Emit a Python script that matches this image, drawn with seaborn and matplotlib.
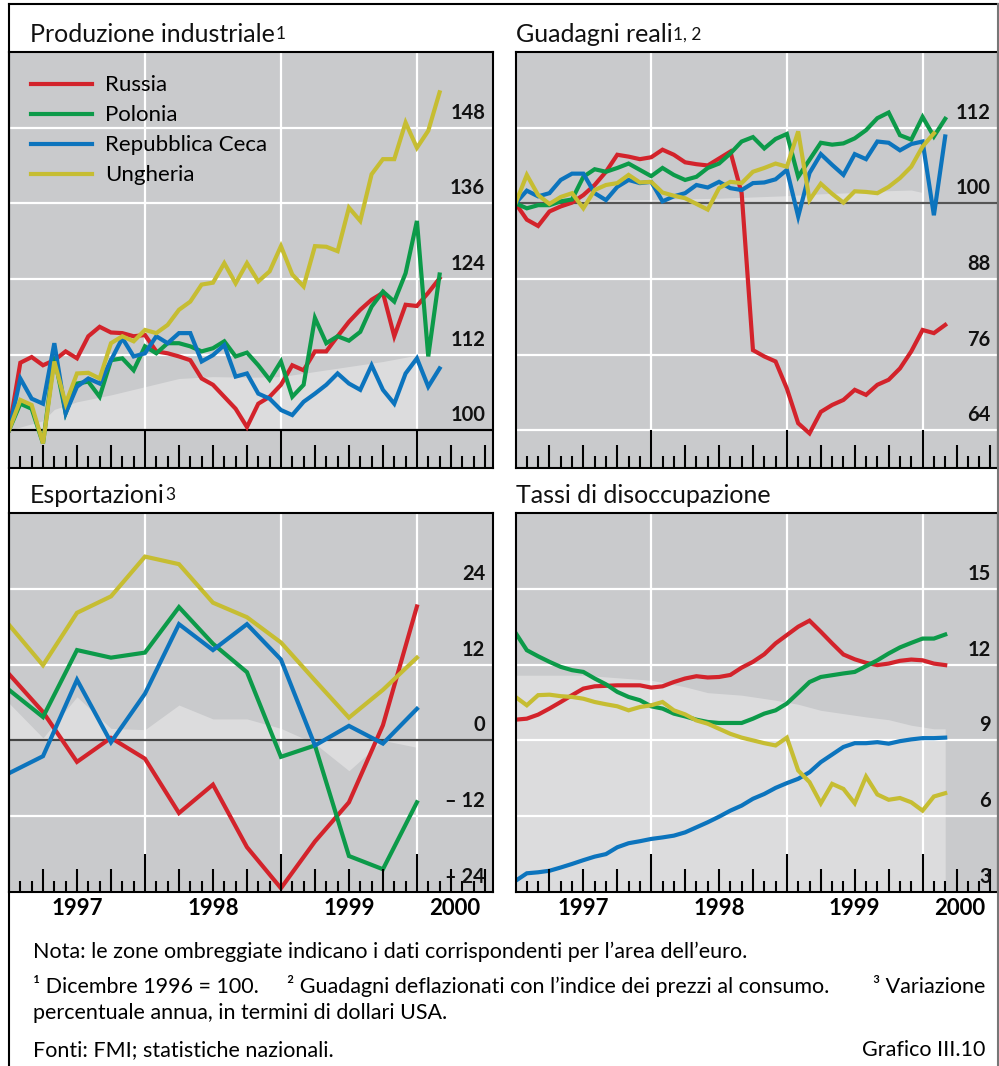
import seaborn as sns
import matplotlib.pyplot as plt
import matplotlib.lines as mlines
import pandas as pd
import numpy as np

plt.rcParams['font.family'] = ['Lato', 'DejaVu Sans']

# ---- dati -------------------------------------------------------------
paesi = ['Russia', 'Polonia', 'Repubblica Ceca', 'Ungheria']
colori = ['#d3232b', '#0c9a49', '#0c74bd', '#c6bd32']

# mesi: 0 = dicembre 1996, 12 = dicembre 1997, ...
mesi = list(range(39))
trimestri = [0, 3, 6, 9, 12, 15, 18, 21, 24, 27, 30, 33, 36]

prod_russia = [100, 110.7, 111.6, 110.3, 111.1, 112.5, 111.4, 114.9, 116.4, 115.5, 115.4, 114.9, 115.1,
               112.5, 112.2, 111.7, 111.1, 108.2, 107.2, 105.3, 103.4, 100.5, 104.2, 105.3, 107.2,
               110.3, 109.5, 112.5, 112.5, 114.9, 117.2, 119.1, 120.7, 121.8, 114.9, 119.9, 119.7, 121.8, 124.1]
prod_polonia = [100, 104.2, 103.4, 97.9, 111.7, 102.7, 107.4, 107.7, 105.3, 111.1, 111.4, 109.5, 113.3,
                112.2, 113.8, 113.8, 113.3, 112.5, 113.0, 114.1, 111.7, 112.3, 110.3, 108.0, 110.9,
                105.3, 107.2, 117.8, 113.8, 114.9, 114.2, 115.6, 119.6, 122.0, 120.4, 124.9, 133.2, 111.7, 124.7]
prod_ceca = [100, 108.2, 105.0, 104.2, 113.8, 102.7, 106.9, 108.2, 107.4, 111.1, 114.6, 111.7, 112.2,
             114.9, 113.8, 115.4, 115.4, 110.9, 111.9, 113.5, 108.5, 109.0, 105.8, 105.0, 103.2,
             102.4, 104.5, 105.8, 107.2, 109.0, 107.4, 106.4, 110.3, 106.4, 104.2, 109.0, 111.4, 106.9, 109.8]
prod_ungheria = [100, 104.8, 104.0, 97.9, 110.9, 104.2, 109.0, 109.1, 108.2, 113.8, 114.9, 114.1, 115.9,
                 115.4, 116.7, 119.1, 120.4, 123.1, 123.4, 126.5, 123.3, 126.5, 123.6, 125.2, 129.2,
                 124.7, 122.8, 129.2, 129.1, 128.4, 135.3, 133.2, 140.6, 143.0, 143.0, 148.8, 144.8, 147.5, 153.6]
prod_euro_mesi = [0, 3, 4, 6, 9, 12, 15, 18, 21, 24, 27, 30, 33, 36]
prod_euro = [100, 101.5, 103.3, 104.5, 105.6, 106.9, 108.2, 108.5, 108.4, 108.5, 109.3, 110.1, 110.9, 111.9]

gua_russia = [100, 97.4, 96.4, 98.7, 99.5, 100.1, 101.3, 102.9, 105.0, 107.7, 107.4, 107.0, 107.3,
              108.5, 107.7, 106.5, 106.2, 106.0, 107.1, 108.2, 101.6, 76.7, 75.7, 74.9, 70.6,
              65.1, 63.5, 66.9, 68.0, 68.8, 70.4, 69.6, 71.2, 72.0, 73.8, 76.5, 79.9, 79.4, 80.7]
gua_polonia = [100, 99.2, 99.7, 99.7, 100.3, 100.6, 104.2, 105.4, 105.0, 105.6, 106.3, 105.3, 104.3,
               105.6, 104.5, 103.7, 104.2, 105.6, 106.3, 107.9, 109.8, 110.5, 108.7, 110.2, 111.0,
               104.2, 106.9, 109.6, 109.3, 109.5, 110.3, 111.6, 113.5, 114.4, 110.8, 110.1, 113.7, 110.6, 113.4]
gua_ceca = [100, 102.0, 101.1, 101.6, 103.7, 104.7, 104.7, 101.6, 100.5, 102.6, 103.7, 103.2, 103.4,
            100.3, 101.1, 101.6, 102.9, 102.5, 103.4, 102.4, 102.1, 103.2, 103.3, 103.8, 105.3,
            97.9, 104.8, 107.8, 106.1, 104.5, 107.8, 107.0, 109.8, 109.6, 108.4, 109.4, 109.8, 98.1, 110.6]
gua_ungheria = [100, 104.5, 101.3, 99.9, 101.0, 101.6, 99.2, 102.1, 102.9, 103.2, 104.5, 103.3, 103.4,
                101.7, 101.2, 100.8, 99.9, 99.0, 102.4, 103.4, 103.2, 105.0, 105.6, 106.3, 105.8,
                111.4, 100.5, 103.1, 101.5, 100.1, 101.9, 101.8, 101.6, 102.6, 104.0, 105.8, 109.0, 111.1]
gua_euro_mesi = [0, 6, 12, 18, 24, 27, 30, 33, 35, 36]
gua_euro = [100, 100.5, 100.6, 100.8, 101.2, 101.5, 101.7, 102.0, 102.1, 101.7]

exp_russia = [10.5, 4.5, -3.4, 0.4, -2.9, -11.5, -7.0, -16.9, -23.4, -16.0, -9.8, 2.4, 21.2]
exp_polonia = [8.0, 3.7, 14.3, 13.1, 13.9, 21.1, 15.3, 10.8, -2.6, -0.8, -18.3, -20.4, -9.8]
exp_ceca = [-5.2, -2.5, 9.6, -0.3, 7.4, 18.4, 14.3, 18.4, 12.8, -0.8, 2.3, -0.5, 5.0]
exp_ungheria = [18.3, 11.9, 20.2, 22.8, 29.1, 27.9, 21.8, 19.5, 15.5, 9.5, 3.6, 8.0, 13.1]
exp_euro = [5.9, 0.4, 6.9, 1.9, 1.7, 5.6, 3.4, 3.4, 1.9, -0.5, -4.8, 0.0, -1.1]

dis_russia = [9.82, 9.86, 10.02, 10.26, 10.52, 10.79, 11.05, 11.14, 11.16, 11.18, 11.18, 11.18, 11.09,
              11.14, 11.31, 11.45, 11.54, 11.49, 11.51, 11.59, 11.88, 12.11, 12.41, 12.84, 13.17,
              13.50, 13.74, 13.30, 12.84, 12.40, 12.21, 12.07, 11.98, 12.04, 12.15, 12.20, 12.17, 12.04, 11.98]
dis_polonia = [13.26, 12.57, 12.33, 12.11, 11.91, 11.78, 11.71, 11.45, 11.22, 10.92, 10.72, 10.59, 10.35,
               10.26, 10.06, 9.95, 9.82, 9.73, 9.69, 9.69, 9.69, 9.86, 10.06, 10.19, 10.46,
               10.88, 11.31, 11.51, 11.58, 11.65, 11.71, 11.94, 12.17, 12.44, 12.68, 12.86, 13.03, 13.03, 13.19]
dis_ceca = [3.44, 3.74, 3.78, 3.84, 3.97, 4.11, 4.26, 4.40, 4.50, 4.77, 4.93, 5.01, 5.10,
            5.16, 5.23, 5.36, 5.56, 5.76, 5.98, 6.22, 6.42, 6.69, 6.88, 7.12, 7.31,
            7.48, 7.74, 8.14, 8.44, 8.74, 8.89, 8.89, 8.93, 8.87, 8.97, 9.04, 9.09, 9.09, 9.11]
dis_ungheria = [10.72, 10.39, 10.79, 10.81, 10.75, 10.72, 10.65, 10.52, 10.43, 10.35, 10.19, 10.32, 10.39,
                10.52, 10.19, 10.03, 9.79, 9.66, 9.46, 9.26, 9.11, 9.00, 8.89, 8.80, 9.11,
                7.81, 7.35, 6.51, 7.28, 7.08, 6.51, 7.57, 6.86, 6.65, 6.72, 6.55, 6.22, 6.78, 6.91]
dis_euro_mesi = [0, 6, 12, 15, 17, 20, 23, 25, 27, 29, 31, 33, 35, 36, 37, 38]
dis_euro = [11.58, 11.58, 11.38, 11.12, 10.89, 10.79, 10.59, 10.43, 10.19, 10.06, 9.93, 9.82, 9.60, 9.53, 9.46, 9.46]

anni = ['1997', '1998', '1999', '2000']
anni_pos = [6, 18, 30, 39.3]

# ---- figura -----------------------------------------------------------
W, H = 999, 1066
fig = plt.figure(figsize=(W / 100, H / 100), dpi=100)
fondo = '#c9cacc'
chiaro = '#dcdcdd'


def add_px_axes(l, t, r, b):
    return fig.add_axes([l / W, 1 - b / H, (r - l) / W, (b - t) / H])


def disegna(ax, serie_x, serie_y, euro_x, euro_y, base, ylim, yticks, ylabels, ref=None, ref_col='black'):
    ax.set_facecolor(fondo)
    ax.fill_between(euro_x, base, euro_y, color=chiaro, lw=0, zorder=0.8)
    for m in [12, 24, 36]:
        ax.axvline(m, color='white', lw=1.6, zorder=1.2)
    for v in yticks:
        ax.axhline(v, color='white', lw=1.6, zorder=1.2)
    if ref is not None:
        ax.axhline(ref, color=ref_col, lw=1.6, zorder=1.4)

    frames = [pd.DataFrame({'mese': x, 'valore': y, 'paese': p})
              for p, x, y in zip(paesi, serie_x, serie_y)]
    df = pd.concat(frames, ignore_index=True)
    sns.lineplot(data=df, x='mese', y='valore', hue='paese', hue_order=paesi, palette=colori,
                 lw=3, legend=False, ax=ax, estimator=None, sort=False,
                 solid_joinstyle='miter', zorder=2)

    ax.set_xlim(0, 42.67)
    ax.set_ylim(*ylim)
    ax.set_xlabel('')
    ax.set_ylabel('')
    ax.set_yticks([])
    ax.tick_params(left=False, labelleft=False)

    # tacche mensili, trimestrali e annuali
    h_px = ax.get_position().height * H
    trans = ax.get_xaxis_transform()
    for m in range(1, 43):
        lung = 38 if m % 12 == 0 else (23 if m % 3 == 0 else 11.5)
        ax.vlines(m, 0, lung / h_px, transform=trans, color='black', lw=1.5, zorder=3)

    for v, lab in zip(yticks, ylabels):
        ax.annotate(lab, xy=(0.985, v), xycoords=('axes fraction', 'data'),
                    xytext=(0, 6.5), textcoords='offset points', ha='right', va='baseline',
                    fontsize=14.5, fontweight='bold', color='#111111')
    for s in ax.spines.values():
        s.set_color('black')
        s.set_linewidth(1.5)


ax1 = add_px_axes(9, 52, 492.5, 468)
ax2 = add_px_axes(515.5, 52, 998, 468)
ax3 = add_px_axes(9, 513, 492.5, 892)
ax4 = add_px_axes(515.5, 513, 998, 892)

disegna(ax1, [mesi] * 4, [prod_russia, prod_polonia, prod_ceca, prod_ungheria],
        prod_euro_mesi, prod_euro, 100, (94, 160),
        [100, 112, 124, 136, 148], ['100', '112', '124', '136', '148'], ref=100, ref_col='black')
disegna(ax2, [mesi, mesi, mesi, mesi[:38]], [gua_russia, gua_polonia, gua_ceca, gua_ungheria],
        gua_euro_mesi, gua_euro, 100, (58, 124),
        [64, 76, 88, 100, 112], ['64', '76', '88', '100', '112'], ref=100, ref_col='#555555')
disegna(ax3, [trimestri] * 4, [exp_russia, exp_polonia, exp_ceca, exp_ungheria],
        trimestri, exp_euro, 0, (-24, 36),
        [-24, -12, 0, 12, 24], ['– 24', '– 12', '0', '12', '24'], ref=0, ref_col='#444444')
disegna(ax4, [mesi] * 4, [dis_russia, dis_polonia, dis_ceca, dis_ungheria],
        dis_euro_mesi, dis_euro, 3, (3, 18),
        [3, 6, 9, 12, 15], ['3', '6', '9', '12', '15'])

for ax in (ax1, ax2):
    ax.set_xticks([])
for ax in (ax3, ax4):
    ax.set_xticks(anni_pos)
    ax.set_xticklabels(anni, fontsize=16, fontweight='bold')
    ax.tick_params(axis='x', length=0, pad=4)

# legenda
maniglie = [mlines.Line2D([], [], color=c, lw=3) for c in colori]
ax1.legend(maniglie, paesi, loc='upper left', bbox_to_anchor=(0.045, 0.944), frameon=False,
           fontsize=16, handlelength=2.75, handletextpad=0.6, labelspacing=0.45,
           borderpad=0, borderaxespad=0)

# titoli
titoli = [(30, 42, 'Produzione industriale', '1'), (516, 42, 'Guadagni reali', '1, 2'),
          (30, 503, 'Esportazioni', '3'), (516, 503, 'Tassi di disoccupazione', '')]
for x, y, testo, nota in titoli:
    t = fig.text(x / W, 1 - y / H, testo, fontsize=18, va='baseline', color='#111111')
    if nota:
        ax1.annotate(nota, xy=(1, 1), xycoords=t, xytext=(0.5, -2.5), textcoords='offset points',
                     ha='left', va='top', fontsize=12.5, color='#111111')

# note
fs = 15.5
fig.text(33 / W, 1 - 958 / H, 'Nota: le zone ombreggiate indicano i dati corrispondenti per l’area dell’euro.',
         fontsize=fs, va='baseline')
fig.text(33 / W, 1 - 993 / H, '¹ Dicembre 1996 = 100.', fontsize=fs, va='baseline')
fig.text(287 / W, 1 - 993 / H, '² Guadagni deflazionati con l’indice dei prezzi al consumo.',
         fontsize=fs, va='baseline')
fig.text(985 / W, 1 - 993 / H, '³ Variazione', fontsize=fs, va='baseline', ha='right')
fig.text(33 / W, 1 - 1019 / H, 'percentuale annua, in termini di dollari USA.', fontsize=fs, va='baseline')
fig.text(33 / W, 1 - 1056 / H, 'Fonti: FMI; statistiche nazionali.', fontsize=fs, va='baseline')
fig.text(985 / W, 1 - 1056 / H, 'Grafico III.10', fontsize=fs, va='baseline', ha='right')

# cornice
fig.add_artist(mlines.Line2D([9 / W, 998 / W], [1 - 3.5 / H, 1 - 3.5 / H], color='black', lw=1.5))
fig.add_artist(mlines.Line2D([9 / W, 9 / W], [0, 1 - 3.5 / H], color='black', lw=1.5))
fig.add_artist(mlines.Line2D([998 / W, 998 / W], [0, 1 - 3.5 / H], color='#777777', lw=1.5))

fig.savefig('out.png', dpi=100)
